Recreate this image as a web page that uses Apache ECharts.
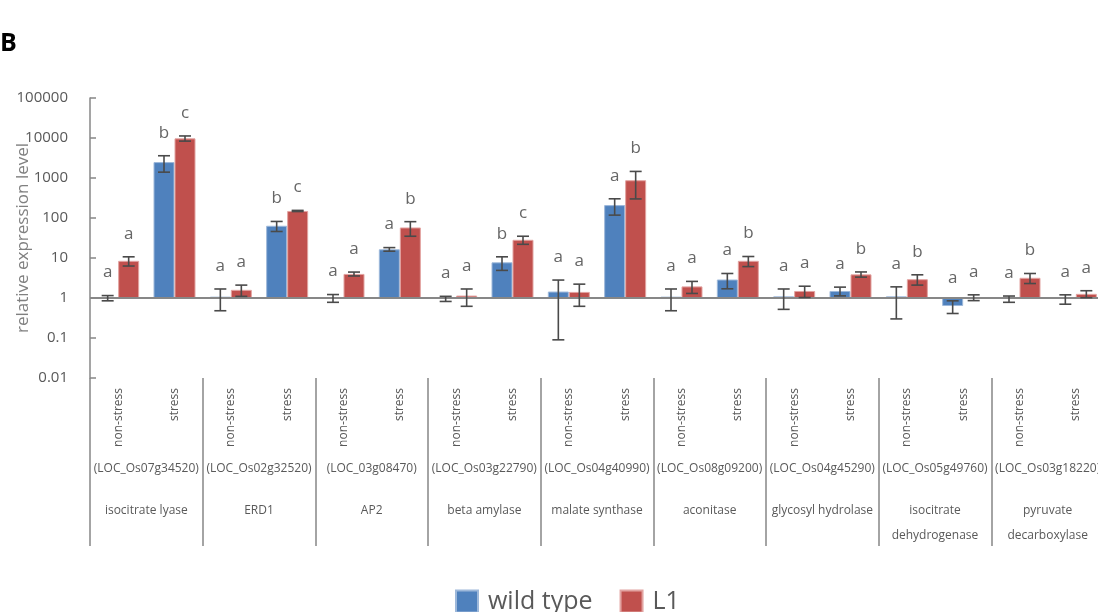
<!DOCTYPE html>
<html>
<head>
<meta charset="utf-8">
<script src="https://cdn.jsdelivr.net/npm/echarts@6/dist/echarts.min.js"></script>
<style>
  html, body { margin: 0; padding: 0; background: #fff; }
  #chart { width: 1098px; height: 612px; }
</style>
</head>
<body>
<div id="chart"></div>
<script>
// Genes (group labels) and their locus identifiers
const geneNames = ['isocitrate lyase', 'ERD1', 'AP2', 'beta amylase', 'malate synthase',
  'aconitase', 'glycosyl hydrolase', 'isocitrate\ndehydrogenase', 'pyruvate\ndecarboxylase'];
const geneIds = ['(LOC_Os07g34520)', '(LOC_Os02g32520)', '(LOC_03g08470)', '(LOC_Os03g22790)',
  '(LOC_Os04g40990)', '(LOC_Os08g09200)', '(LOC_Os04g45290)', '(LOC_Os05g49760)', '(LOC_Os03g18220)'];
const conditions = ['non-stress', 'stress'];

// Log-axis tick labels, 0.01 ... 100000
const yTickLabels = ['0.01', '0.1', '1', '10', '100', '1000', '10000', '100000'];

// Relative expression, ordered gene by gene: non-stress, stress
const wildType    = [1.0, 2500, 1.08, 64, 1.0, 16.5, 0.96, 7.8, 1.45, 210, 1.08, 2.9, 1.1, 1.5, 1.1, 0.63, 0.95, 0.95];
const wildTypeErr = [0.15, 1100, 0.6, 18, 0.22, 1.7, 0.14, 2.9, 1.36, 92, 0.6, 1.2, 0.58, 0.37, 0.8, 0.22, 0.17, 0.25];
const wildTypeSig = ['a', 'b', 'a', 'b', 'a', 'a', 'a', 'b', 'a', 'a', 'a', 'a', 'a', 'a', 'a', 'a', 'a', 'a'];

const lineL1    = [8.5, 9800, 1.6, 150, 4.0, 58, 1.15, 28.5, 1.42, 880, 1.95, 8.5, 1.5, 3.9, 2.95, 1.03, 3.2, 1.27];
const lineL1Err = [2.2, 1450, 0.5, 5, 0.45, 23, 0.53, 6.5, 0.8, 580, 0.65, 2.4, 0.47, 0.58, 0.85, 0.17, 0.9, 0.25];
const lineL1Sig = ['a', 'c', 'a', 'c', 'a', 'b', 'a', 'c', 'a', 'b', 'a', 'b', 'a', 'b', 'b', 'a', 'b', 'a'];

const FONT = '"Open Sans", "Noto Sans", sans-serif';
const TEXT = '#595959';
const AXIS = '#878787';
const BAR_W = 21;

const conditionLabels = [];
geneNames.forEach(() => conditions.forEach(c => conditionLabels.push(c)));

// Error bars plus significance letters, offset to the left (-1) or right (+1) bar of each pair
function errorSeries(values, errs, sigs, side) {
  return {
    type: 'custom',
    xAxisIndex: 0,
    yAxisIndex: 0,
    clip: false,
    silent: true,
    z: 5,
    encode: { x: 0, y: 1 },
    data: values.map((v, i) => [i, v, errs[i]]),
    renderItem(params, api) {
      const i = api.value(0), v = api.value(1), e = api.value(2);
      const hi = api.coord([i, v + e]);
      const lo = api.coord([i, v - e]);
      const x = hi[0] + side * BAR_W / 2;
      const cap = 6;
      const st = { stroke: '#4a4a4a', lineWidth: 1.6 };
      return {
        type: 'group',
        children: [
          { type: 'line', shape: { x1: x, y1: hi[1], x2: x, y2: lo[1] }, style: st },
          { type: 'line', shape: { x1: x - cap, y1: hi[1], x2: x + cap, y2: hi[1] }, style: st },
          { type: 'line', shape: { x1: x - cap, y1: lo[1], x2: x + cap, y2: lo[1] }, style: st },
          {
            type: 'text',
            style: {
              text: sigs[params.dataIndex], x: x, y: hi[1] - 23,
              align: 'center', verticalAlign: 'middle',
              fill: '#666', font: '17px ' + FONT
            }
          }
        ]
      };
    }
  };
}

const chart = echarts.init(document.getElementById('chart'), null, { renderer: 'canvas' });

chart.setOption({
  animation: false,
  backgroundColor: '#fff',
  graphic: [{
    type: 'text', left: 0, top: 31,
    style: { text: 'B', font: 'bold 25px ' + FONT, fill: '#000' }
  }],
  grid: { left: 90, top: 98, width: 1014, height: 280, containLabel: false, outerBoundsMode: 'none' },
  legend: {
    left: 455, top: 589, padding: 0,
    icon: 'rect', itemWidth: 22, itemHeight: 22, itemGap: 27,
    textStyle: { fontSize: 25, lineHeight: 25, color: TEXT, fontFamily: FONT, padding: [0, 0, 0, 5] },
    data: ['wild type', 'L1']
  },
  xAxis: [
    {
      type: 'category', data: conditionLabels, position: 'bottom',
      axisLine: { show: false }, axisTick: { show: false }, splitLine: { show: false },
      axisLabel: { interval: 0, rotate: 90, margin: 10, fontSize: 12, color: TEXT, fontFamily: FONT }
    },
    {
      type: 'category', data: geneIds, position: 'bottom',
      axisLine: { show: false },
      axisTick: { show: true, length: 168, lineStyle: { color: AXIS, width: 1.5 } },
      splitLine: { show: false },
      axisLabel: { interval: 0, margin: 85, fontSize: 12, color: TEXT, fontFamily: FONT }
    },
    {
      type: 'category', data: geneNames, position: 'bottom',
      axisLine: { show: false }, axisTick: { show: false }, splitLine: { show: false },
      axisLabel: { interval: 0, margin: 120, fontSize: 12, lineHeight: 25, color: TEXT, fontFamily: FONT }
    }
  ],
  yAxis: {
    type: 'log', logBase: 10, min: 0.01, max: 100000, interval: 1,
    name: 'relative expression level', nameLocation: 'middle', nameGap: 58, nameMoveOverlap: false,
    nameTextStyle: { fontSize: 17, color: '#808080', fontFamily: FONT },
    axisLine: { show: true, lineStyle: { color: AXIS, width: 1.5 } },
    axisTick: { show: true, inside: true, length: 6, lineStyle: { color: AXIS, width: 1.5 } },
    splitLine: { show: false },
    axisLabel: {
      margin: 22, fontSize: 15, color: TEXT, fontFamily: FONT,
      formatter: v => yTickLabels[Math.round(Math.log10(v)) + 2]
    }
  },
  series: [
    {
      name: 'wild type', type: 'bar', xAxisIndex: 0, barWidth: BAR_W, barGap: '0%',
      data: wildType,
      itemStyle: { color: '#4F81BD', borderColor: '#9db8da', borderWidth: 1 },
      markLine: {
        silent: true, symbol: 'none', label: { show: false },
        lineStyle: { color: AXIS, width: 2, type: 'solid' },
        data: [{ yAxis: 1 }]
      }
    },
    {
      name: 'L1', type: 'bar', xAxisIndex: 0, barWidth: BAR_W, barGap: '0%',
      data: lineL1,
      itemStyle: { color: '#C0504D', borderColor: '#e2a3a1', borderWidth: 1 }
    },
    errorSeries(wildType, wildTypeErr, wildTypeSig, -1),
    errorSeries(lineL1, lineL1Err, lineL1Sig, 1)
  ]
});
</script>
</body>
</html>
